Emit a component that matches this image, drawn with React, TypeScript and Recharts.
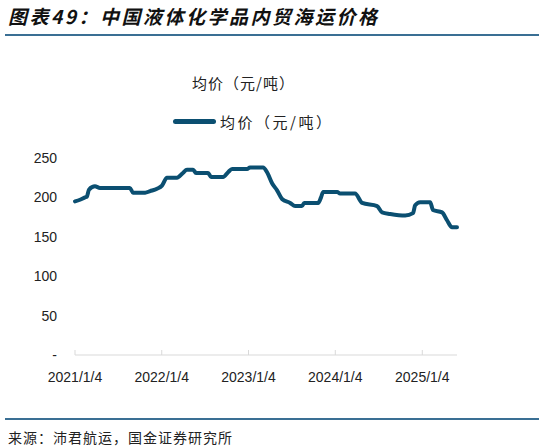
import React from "react";
import { LineChart, Line, XAxis, YAxis } from "recharts";

const dates = [
  "2021-01-04", "2021-01-25", "2021-02-15", "2021-02-23", "2021-03-04", "2021-03-29",
  "2021-04-19", "2021-08-23", "2021-09-05", "2021-10-26", "2021-11-16", "2021-12-15",
  "2022-01-05", "2022-01-26", "2022-03-09", "2022-04-03", "2022-04-20", "2022-05-16",
  "2022-05-28", "2022-07-18", "2022-07-30", "2022-09-19", "2022-10-10", "2022-10-27",
  "2022-12-29", "2023-01-10", "2023-03-06", "2023-03-23", "2023-04-13", "2023-05-04",
  "2023-05-25", "2023-06-28", "2023-07-19", "2023-08-17", "2023-08-26", "2023-10-24",
  "2023-11-05", "2023-11-14", "2024-01-12", "2024-01-24", "2024-03-27", "2024-04-26",
  "2024-06-28", "2024-07-19", "2024-08-22", "2024-10-24", "2024-11-26", "2024-12-05",
  "2024-12-26", "2025-02-06", "2025-02-18", "2025-03-28", "2025-04-18", "2025-05-09",
  "2025-05-30",
];

const prices = [
  195, 197, 200, 201, 210, 214,
  212, 212, 206, 206, 208, 211,
  215, 225, 225, 231, 235, 235,
  231, 231, 226, 226, 232, 236,
  236, 238, 238, 232, 218, 209,
  198, 193, 189, 189, 193, 193,
  200, 207, 207, 205, 205, 193,
  189, 181, 179, 177, 180, 190,
  194, 194, 184, 181, 171, 162,
  162,
];

const tickDates = ["2021-01-04", "2022-01-04", "2023-01-04", "2024-01-04", "2025-01-04"];
const yTicks = [0, 50, 100, 150, 200, 250];

const seriesName = "均价（元/吨）";
const titleText = "图表49：中国液体化学品内贸海运价格";
const sourceText = "来源：沛君航运，国金证券研究所";

const toTs = (s: string) => Date.parse(s + "T00:00:00Z");
const data = dates.map((d, i) => ({ t: toTs(d), v: prices[i] }));
const xTicks = tickDates.map(toTs);

const fmtDate = (ts: number) => {
  const d = new Date(ts);
  return `${d.getUTCFullYear()}/${d.getUTCMonth() + 1}/${d.getUTCDate()}`;
};

const LINE_COLOR = "#0b4f71";
const RULE_COLOR = "#3a6f94";
const CJK = "'Noto Sans CJK SC', 'Noto Sans', sans-serif";
const LATIN = "'Liberation Sans', Arial, sans-serif";

const XTick = (props: any) => {
  const { x, y, payload } = props;
  return (
    <g>
      <line x1={x} x2={x} y1={y - 5} y2={y} stroke="#d9d9d9" strokeWidth={1} />
      <text x={x} y={y + 27} textAnchor="middle" fontSize={14} fontFamily={LATIN} fill="#222">
        {fmtDate(payload.value)}
      </text>
    </g>
  );
};

export default function App() {
  return (
    <div
      style={{
        position: "fixed",
        left: 0,
        top: 0,
        width: 541,
        height: 447,
        background: "#fff",
        overflow: "hidden",
      }}
    >
      <div
        style={{
          position: "absolute",
          left: 8,
          top: 4,
          fontFamily: CJK,
          fontSize: 19,
          fontWeight: 700,
          fontStyle: "italic",
          letterSpacing: 2.5,
          color: "#111",
          whiteSpace: "nowrap",
          lineHeight: "24px",
        }}
      >
        {titleText}
      </div>
      <div style={{ position: "absolute", left: 5, top: 34, width: 534, height: 2, background: RULE_COLOR }} />

      <div
        style={{
          position: "absolute",
          left: 192,
          top: 72,
          fontFamily: CJK,
          fontSize: 15,
          letterSpacing: 1,
          color: "#222",
          lineHeight: "22px",
          whiteSpace: "nowrap",
        }}
      >
        {seriesName}
      </div>

      <div style={{ position: "absolute", left: 173, top: 119, width: 43, height: 5, borderRadius: 3, background: LINE_COLOR }} />
      <div
        style={{
          position: "absolute",
          left: 220,
          top: 111,
          fontFamily: CJK,
          fontSize: 15,
          letterSpacing: 2.5,
          color: "#222",
          lineHeight: "22px",
          whiteSpace: "nowrap",
        }}
      >
        {seriesName}
      </div>

      <div style={{ position: "absolute", left: 0, top: 0 }}>
        <LineChart
          width={541}
          height={447}
          data={data}
          margin={{ top: 158, right: 84, bottom: 62, left: 35 }}
        >
          <XAxis
            dataKey="t"
            type="number"
            scale="time"
            domain={[toTs("2021-01-04"), toTs("2025-05-30")]}
            ticks={xTicks}
            tick={<XTick />}
            tickLine={false}
            tickSize={0}
            tickMargin={0}
            height={30}
            axisLine={{ stroke: "#d9d9d9", strokeWidth: 1 }}
            interval={0}
          />
          <YAxis
            domain={[0, 250]}
            ticks={yTicks}
            width={40}
            axisLine={false}
            tickLine={false}
            tickSize={0}
            tickMargin={18}
            interval={0}
            tickFormatter={(v: number) => (v === 0 ? "-" : String(v))}
            tick={{ fontSize: 14, fontFamily: LATIN, fill: "#222" }}
          />
          <Line
            type="monotone"
            dataKey="v"
            stroke={LINE_COLOR}
            strokeWidth={4}
            dot={false}
            isAnimationActive={false}
            strokeLinejoin="round"
            strokeLinecap="round"
          />
        </LineChart>
      </div>

      <div style={{ position: "absolute", left: 5, top: 418, width: 534, height: 2, background: RULE_COLOR }} />
      <div
        style={{
          position: "absolute",
          left: 8,
          top: 427,
          fontFamily: CJK,
          fontSize: 14,
          letterSpacing: 1,
          color: "#222",
          lineHeight: "20px",
          whiteSpace: "nowrap",
        }}
      >
        {sourceText}
      </div>
    </div>
  );
}
